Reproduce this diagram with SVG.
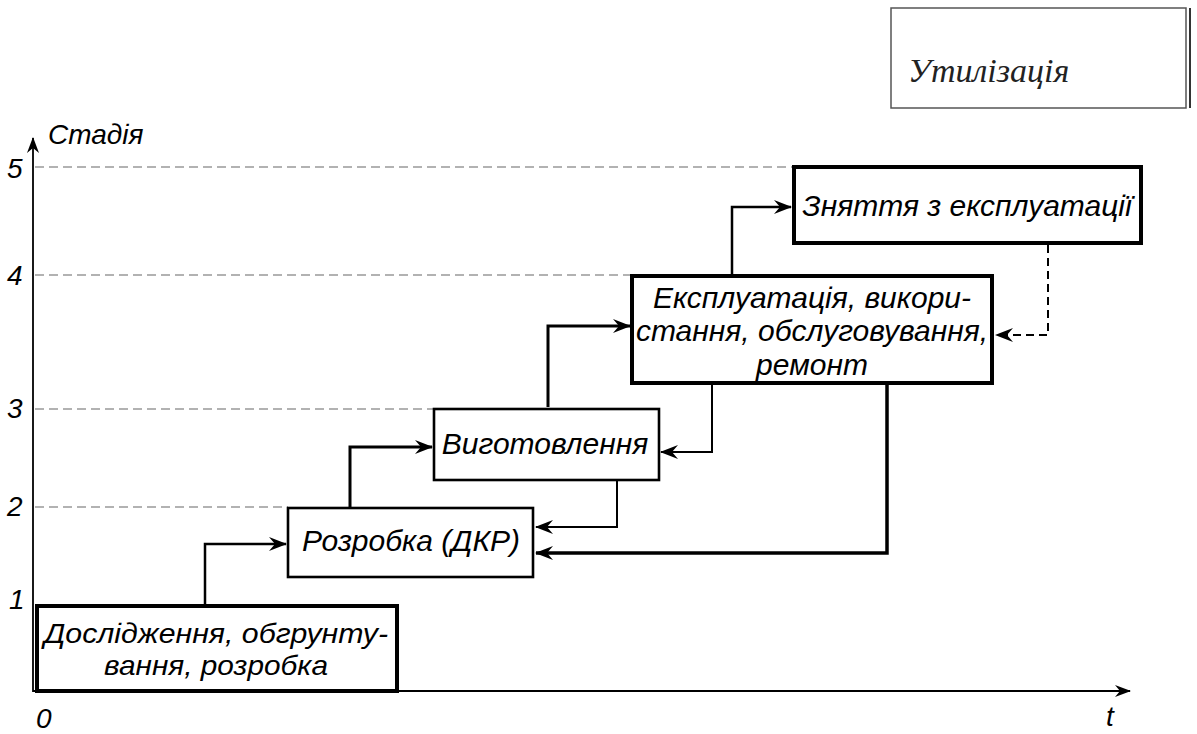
<svg xmlns="http://www.w3.org/2000/svg" width="1197" height="734" viewBox="0 0 1197 734">
<style>
  .lbl { font-family: "Liberation Sans", Arial, sans-serif; font-style: italic; font-size: 30px; fill: #000; }
  .num { font-family: "Liberation Sans", Arial, sans-serif; font-style: italic; font-size: 28px; fill: #000; }
  .grid { stroke: #999; stroke-width: 1.5; stroke-dasharray: 9 5; fill: none; }
  .axis { stroke: #000; stroke-width: 1.8; fill: none; }
  .box { fill: #fff; stroke: #000; }
  .thick { stroke-width: 4; }
  .med { stroke-width: 2.6; }
  .con { stroke: #000; fill: none; }
</style>
<defs>
  <marker id="ah" markerWidth="18" markerHeight="14" refX="17" refY="7" orient="auto" markerUnits="userSpaceOnUse">
    <path d="M0,0 L18,7 L0,14 L6,7 Z" fill="#000"/>
  </marker>
  <marker id="axh" markerWidth="16" markerHeight="12" refX="15" refY="6" orient="auto" markerUnits="userSpaceOnUse">
    <path d="M0,0 L16,6 L0,12 L5,6 Z" fill="#000"/>
  </marker>
</defs>
<rect width="1197" height="734" fill="#fff"/>

<g id="grid">
  <line class="grid" x1="35" y1="167" x2="793" y2="167"/>
  <line class="grid" x1="35" y1="275" x2="632" y2="275"/>
  <line class="grid" x1="35" y1="409" x2="434" y2="409"/>
  <line class="grid" x1="35" y1="507" x2="288" y2="507"/>
</g>

<g id="axes">
  <line class="axis" x1="33" y1="692" x2="33" y2="138" marker-end="url(#axh)"/>
  <line class="axis" x1="33" y1="691" x2="1130" y2="691" marker-end="url(#axh)"/>
  <text class="num" x="48" y="144">Стадія</text>
  <text class="num" x="7" y="178">5</text>
  <text class="num" x="7" y="285">4</text>
  <text class="num" x="7" y="418">3</text>
  <text class="num" x="7" y="516">2</text>
  <text class="num" x="9" y="609">1</text>
  <text class="num" x="36" y="728">0</text>
  <text class="num" x="1106" y="726">t</text>
</g>

<g id="utilization">
  <rect x="891" y="8" width="295" height="100" fill="#fff" stroke="#555" stroke-width="1.5"/>
  <line x1="1190" y1="8" x2="1190" y2="108" stroke="#333" stroke-width="2"/>
  <text x="908" y="82" style="font-family:'Liberation Serif','Times New Roman',serif;font-style:italic;font-size:34px;fill:#222">Утилізація</text>
</g>

<g id="connectors">
  <polyline class="con" stroke-width="2.5" points="205,604 205,544 286,544" marker-end="url(#ah)"/>
  <polyline class="con" stroke-width="3" points="350,508 350,447 432,447" marker-end="url(#ah)"/>
  <polyline class="con" stroke-width="3" points="548,407 548,326 630,326" marker-end="url(#ah)"/>
  <polyline class="con" stroke-width="2.5" points="732,275 732,207 791,207" marker-end="url(#ah)"/>
  <polyline class="con" stroke-width="2" stroke-dasharray="8 5" points="1048,245 1048,335 996,335" marker-end="url(#ah)"/>
  <polyline class="con" stroke-width="2" points="712,380 712,452 661,452" marker-end="url(#ah)"/>
  <polyline class="con" stroke-width="2" points="617,476 617,527 536,527" marker-end="url(#ah)"/>
  <polyline class="con" stroke-width="3.5" points="887,385 887,553 536,553" marker-end="url(#ah)"/>
</g>

<g id="n1">
  <rect class="box thick" x="37" y="606" width="360" height="85"/>
  <text class="lbl" x="44" y="643" style="font-size:28px" textLength="344" lengthAdjust="spacingAndGlyphs">Дослідження, обгрунту-</text>
  <text class="lbl" x="104" y="675" style="font-size:28px" textLength="224" lengthAdjust="spacingAndGlyphs">вання, розробка</text>
</g>
<g id="n2">
  <rect class="box med" x="288" y="508" width="245" height="69"/>
  <text class="lbl" x="411" y="551" text-anchor="middle">Розробка (ДКР)</text>
</g>
<g id="n3">
  <rect class="box med" x="434" y="409" width="225" height="71"/>
  <text class="lbl" x="545" y="454" text-anchor="middle">Виготовлення</text>
</g>
<g id="n4">
  <rect class="box thick" x="632" y="276" width="360" height="107"/>
  <text class="lbl" x="812" y="308" text-anchor="middle">Експлуатація, викори-</text>
  <text class="lbl" x="812" y="341" text-anchor="middle">стання, обслуговування,</text>
  <text class="lbl" x="812" y="375" text-anchor="middle">ремонт</text>
</g>
<g id="n5">
  <rect class="box thick" x="794" y="167" width="347" height="76"/>
  <text class="lbl" x="967" y="216" text-anchor="middle">Зняття з експлуатації</text>
</g>
</svg>
